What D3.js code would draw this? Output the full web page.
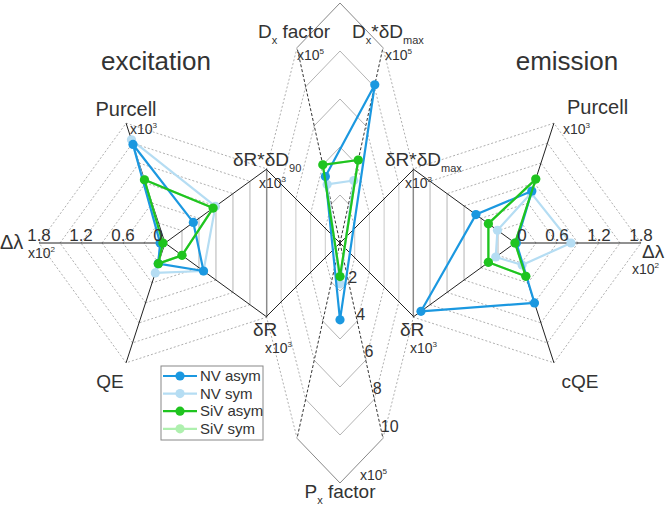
<!DOCTYPE html>
<html>
<head>
<meta charset="utf-8">
<script src="https://cdn.jsdelivr.net/npm/d3@7"></script>
<style>
  body { margin: 0; background: #fff; }
  text { font-family: "Liberation Sans", Arial, sans-serif; fill: #333; }
</style>
</head>
<body>
<svg id="svg" width="666" height="507"></svg>
<script>
// ---- data ----
const seriesNames = ["NV asym", "NV sym", "SiV asym", "SiV sym"];
const seriesColors = ["#1b98e0", "#b5ddf3", "#1fc41f", "#aef0ae"];

// excitation: Δλ (x10^2), Purcell, δR*δD90, δR, QE (all on 0..1.8 scale)
const excitationAxes = ["Δλ", "Purcell", "δR*δD90", "δR", "QE"];
const excitationValues = [
    [0.07, 1.48, 0.50, 0.68, 0.31],
    [0.05, 1.55, 0.89, 0.68, 0.45],
    [0.03, 0.95, 0.85, 0.30, 0.31],
    [0.03, 0.95, 0.85, 0.30, 0.31]
];

// emission: Δλ, Purcell, δR*δDmax, δR, cQE
const emissionAxes = ["Δλ", "Purcell", "δR*δDmax", "δR", "cQE"];
const emissionValues = [
    [0.02, 0.78, 0.69, 1.66, 0.90],
    [0.80, 0.75, 0.31, 0.34, 0.33],
    [0.00, 0.96, 0.47, 0.47, 0.50],
    [0.00, 0.96, 0.47, 0.47, 0.50]
];

// factors (x10^5): Dx factor, Dx*δDmax, Px factor
const factorAxes = ["Dx factor", "Dx*δDmax", "Px factor"];
const factorValues = [
    [3.4, 8.1, 3.2],
    [3.0, 3.2, 1.7],
    [4.0, 4.25, 1.4],
    [4.0, 4.25, 1.4]
];

const lambdaTicks = [0, 0.6, 1.2, 1.8];
const pxTicks = [2, 4, 6, 8, 10];

// ---- geometry ----
const svg = d3.select("#svg");
const deg = Math.PI / 180;
function polar(c, ang, r) {
    return [c[0] + r * Math.cos(ang * deg), c[1] - r * Math.sin(ang * deg)];
}

const cL = [165, 243], cR = [515, 243], cM = [340, 243];
const rSide = d3.scaleLinear().domain([0, 1.8]).range([0, 126]);
const fMid = d3.scaleLinear().domain([0, 10]).range([0, 1]);

// spokes: angle, length (px), stroke kind, data index
const leftSpokes = [
    { a: 180, len: 126, kind: "solid", idx: 0 },
    { a: 108, len: 126, kind: "solid", idx: 1 },
    { a: 36, len: 126, kind: "solid", idx: 2 },
    { a: -36, len: 126, kind: "solid", idx: 3 },
    { a: -108, len: 126, kind: "solid", idx: 4 }
];
const leftRings = ["dot", "dot", "line", "dot", "dot"];

const rightSpokes = [
    { a: 0, len: 126, kind: "solid", idx: 0 },
    { a: 72, len: 126, kind: "solid", idx: 1 },
    { a: 144, len: 126, kind: "solid", idx: 2 },
    { a: -144, len: 126, kind: "solid", idx: 3 },
    { a: -72, len: 126, kind: "solid", idx: 4 }
];
const rightRings = ["dot", "dot", "line", "dot", "dot"];

const midSpokes = [
    { a: 45, len: 104, kind: "solid" },
    { a: 77.6, len: 200, kind: "dash", idx: 1 },
    { a: 90, len: 240, kind: "none" },
    { a: 102.4, len: 200, kind: "dash", idx: 0 },
    { a: 135, len: 104, kind: "solid" },
    { a: -135, len: 104, kind: "solid" },
    { a: -102.4, len: 200, kind: "dash" },
    { a: -90, len: 240, kind: "none", idx: 2 },
    { a: -77.6, len: 200, kind: "dash" },
    { a: -45, len: 104, kind: "solid" }
];
const midRings = ["dot", "line", "line", "dot", "light", "dot", "line", "line", "dot", "light"];

const gGrid = svg.append("g");
const gAxes = svg.append("g");
const gData = svg.append("g");
const gText = svg.append("g");

function drawRings(c, spokes, styles, levels) {
    for (let k = 1; k <= levels; k++) {
        const f = k / levels;
        spokes.forEach((s, i) => {
            const n = spokes[(i + 1) % spokes.length];
            const p = polar(c, s.a, f * s.len), q = polar(c, n.a, f * n.len);
            const ln = gGrid.append("line")
                .attr("x1", p[0]).attr("y1", p[1]).attr("x2", q[0]).attr("y2", q[1]);
            if (styles[i] === "dot") {
                ln.attr("stroke", "#9a9a9a").attr("stroke-width", 0.8).attr("stroke-dasharray", "2,2");
            } else if (styles[i] === "light") {
                ln.attr("stroke", k === levels ? "#888" : "#cacaca").attr("stroke-width", 1);
            } else {
                ln.attr("stroke", k === levels ? "#888" : "#b4b4b4").attr("stroke-width", 1);
            }
        });
    }
}
function drawSpokes(c, spokes) {
    spokes.forEach(s => {
        if (s.kind === "none") return;
        const p = polar(c, s.a, s.len);
        const ln = gAxes.append("line")
            .attr("x1", c[0]).attr("y1", c[1]).attr("x2", p[0]).attr("y2", p[1])
            .attr("stroke", "#222").attr("stroke-width", 1);
        if (s.kind === "dash") ln.attr("stroke-dasharray", "3,2").attr("stroke", "#333");
    });
}

drawRings(cL, leftSpokes, leftRings, 6);
drawRings(cR, rightSpokes, rightRings, 6);
drawRings(cM, midSpokes, midRings, 5);
drawSpokes(cL, leftSpokes);
drawSpokes(cR, rightSpokes);
drawSpokes(cM, midSpokes);

// ---- data polygons ----
const line = d3.line();
function drawSeries(c, spokes, values, toPx) {
    const order = [3, 1, 0, 2]; // SiV sym at the bottom, SiV asym on top
    order.forEach(si => {
        const pts = spokes.filter(s => s.idx !== undefined)
            .map(s => polar(c, s.a, toPx(values[si][s.idx], s)));
        gData.append("path")
            .attr("d", line(pts) + "Z")
            .attr("fill", "none")
            .attr("stroke", seriesColors[si])
            .attr("stroke-width", 2.2)
            .attr("stroke-linejoin", "round");
        gData.selectAll(null).data(pts).enter().append("circle")
            .attr("cx", d => d[0]).attr("cy", d => d[1]).attr("r", 4.6)
            .attr("fill", seriesColors[si]);
    });
}
drawSeries(cL, leftSpokes, excitationValues, v => rSide(v));
drawSeries(cR, rightSpokes, emissionValues, v => rSide(v));
drawSeries(cM, midSpokes, factorValues, (v, s) => fMid(v) * s.len);

// ---- text ----
function rich(x, y, parts, size, anchor) {
    const t = gText.append("text").attr("x", x).attr("y", y)
        .attr("font-size", size).attr("text-anchor", anchor || "start");
    let shift = 0;
    parts.forEach(p => {
        const str = Array.isArray(p) ? p[0] : p;
        const kind = Array.isArray(p) ? p[1] : null;
        const target = kind === "sub" ? size * 0.3 : kind === "sup" ? -size * 0.42 : 0;
        const ts = t.append("tspan").text(str).attr("dy", target - shift);
        if (kind) ts.attr("font-size", size * 0.58);
        shift = target;
    });
    return t;
}
const x10 = e => ["x10", [e, "sup"]];

rich(156, 70, ["excitation"], 26, "middle");
rich(567, 70, ["emission"], 26, "middle");

rich(126, 116, ["Purcell"], 20, "middle");
rich(130, 134, x10("3"), 14);
rich(233, 166, ["δR*δD", ["90", "sub"]], 19);
rich(259, 188, x10("3"), 14);
rich(0, 249, ["Δλ"], 20);
rich(28, 258, x10("2"), 14);
rich(110, 388, ["QE"], 19, "middle");
rich(253, 336, ["δR"], 19);
rich(265, 353, x10("3"), 14);

rich(567, 114, ["Purcell"], 20);
rich(563, 134, x10("3"), 14);
rich(385, 166, ["δR*δD", ["max", "sub"]], 19);
rich(405, 188, x10("3"), 14);
rich(642, 258, ["Δλ"], 19);
rich(632, 274, x10("2"), 14);
rich(580, 388, ["cQE"], 19, "middle");
rich(400, 336, ["δR"], 19);
rich(410, 353, x10("3"), 14);

rich(258, 38, ["D", ["x", "sub"], " factor"], 19);
rich(297, 60, x10("5"), 14);
rich(352, 38, ["D", ["x", "sub"], "*δD", ["max", "sub"]], 19);
rich(385, 60, x10("5"), 14);
rich(340, 498, ["P", ["x", "sub"], " factor"], 19, "middle");
rich(360, 480, x10("5"), 14);

// Δλ tick labels on both sides
[[cL, 180], [cR, 0]].forEach(([c, a]) => {
    lambdaTicks.forEach(t => {
        const p = polar(c, a, rSide(t) + (t === 0 ? 7 : 0));
        gText.append("text").attr("x", p[0]).attr("y", c[1] - 2)
            .attr("font-size", 17).attr("text-anchor", "middle").text(t);
    });
});
// Px tick labels along the lower right dashed spoke
pxTicks.forEach(t => {
    const p = polar(cM, -77.6, fMid(t) * 190);
    gText.append("text").attr("x", p[0]).attr("y", p[1] + 3)
        .attr("font-size", 16).text(t);
});

// ---- legend ----
const lg = svg.append("g").attr("transform", "translate(161,366)");
lg.append("rect").attr("width", 102).attr("height", 74)
    .attr("fill", "#fff").attr("stroke", "#888").attr("stroke-width", 1);
seriesNames.forEach((name, i) => {
    const y = 10 + i * 17.6;
    lg.append("line").attr("x1", 2).attr("x2", 36).attr("y1", y).attr("y2", y)
        .attr("stroke", seriesColors[i]).attr("stroke-width", 2.2);
    lg.append("circle").attr("cx", 19).attr("cy", y).attr("r", 4.6).attr("fill", seriesColors[i]);
    lg.append("text").attr("x", 39).attr("y", y).attr("dy", "0.35em")
        .attr("font-size", 15).text(name);
});
</script>
</body>
</html>
